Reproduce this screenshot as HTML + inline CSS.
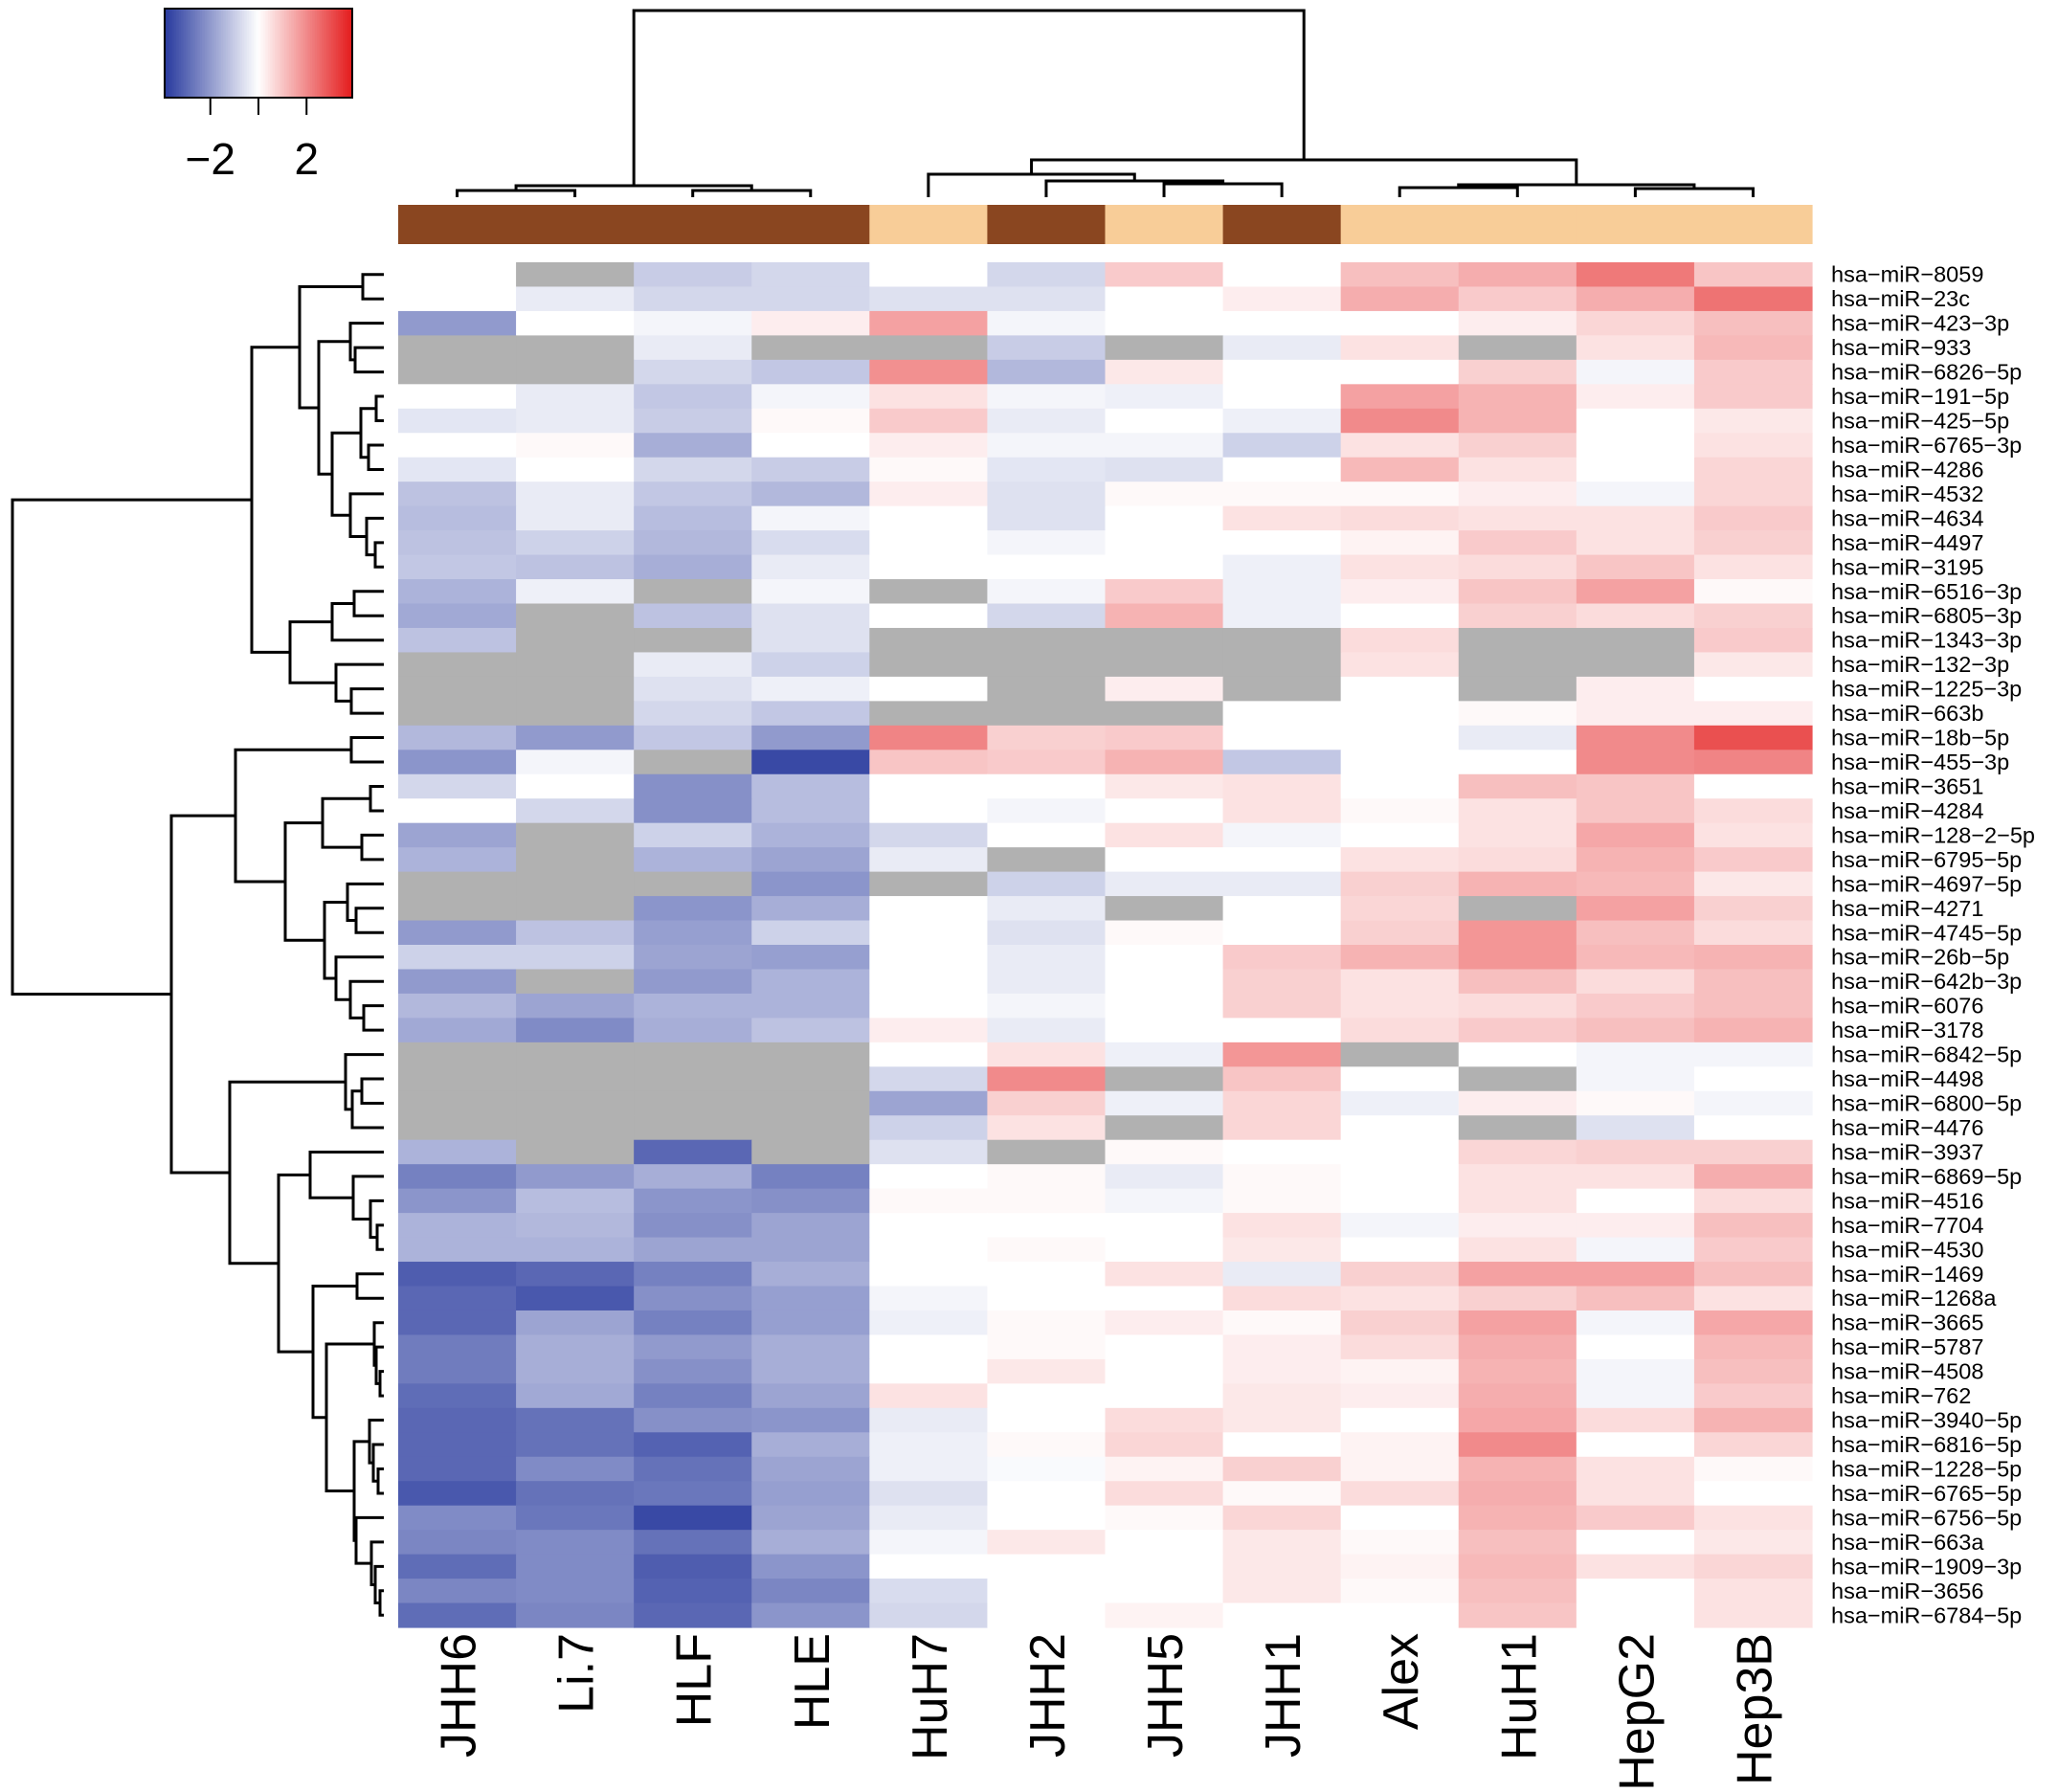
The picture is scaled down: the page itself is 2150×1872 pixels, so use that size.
<!DOCTYPE html>
<html><head><meta charset="utf-8"><style>
html,body{margin:0;padding:0;background:#fff;}
svg{display:block;font-family:"Liberation Sans",Arial,sans-serif;}
</style></head><body>
<svg id="chart" width="2150" height="1872" viewBox="0 0 2150 1872" xmlns="http://www.w3.org/2000/svg">
<g id="key"></g>
<g id="coldendro"></g>
<g id="annot"></g>
<g id="rowdendro"></g>
<g id="cells"></g>
<g id="rowlabels"></g>
<g id="collabels"></g>
</svg>
<script>
const columns = ["JHH6","Li.7","HLF","HLE","HuH7","JHH2","JHH5","JHH1","Alex","HuH1","HepG2","Hep3B"];
const groups = [1,1,1,1,0,1,0,1,0,0,0,0];
const rows = ["hsa−miR−8059","hsa−miR−23c","hsa−miR−423−3p","hsa−miR−933","hsa−miR−6826−5p","hsa−miR−191−5p","hsa−miR−425−5p","hsa−miR−6765−3p","hsa−miR−4286","hsa−miR−4532","hsa−miR−4634","hsa−miR−4497","hsa−miR−3195","hsa−miR−6516−3p","hsa−miR−6805−3p","hsa−miR−1343−3p","hsa−miR−132−3p","hsa−miR−1225−3p","hsa−miR−663b","hsa−miR−18b−5p","hsa−miR−455−3p","hsa−miR−3651","hsa−miR−4284","hsa−miR−128−2−5p","hsa−miR−6795−5p","hsa−miR−4697−5p","hsa−miR−4271","hsa−miR−4745−5p","hsa−miR−26b−5p","hsa−miR−642b−3p","hsa−miR−6076","hsa−miR−3178","hsa−miR−6842−5p","hsa−miR−4498","hsa−miR−6800−5p","hsa−miR−4476","hsa−miR−3937","hsa−miR−6869−5p","hsa−miR−4516","hsa−miR−7704","hsa−miR−4530","hsa−miR−1469","hsa−miR−1268a","hsa−miR−3665","hsa−miR−5787","hsa−miR−4508","hsa−miR−762","hsa−miR−3940−5p","hsa−miR−6816−5p","hsa−miR−1228−5p","hsa−miR−6765−5p","hsa−miR−6756−5p","hsa−miR−663a","hsa−miR−1909−3p","hsa−miR−3656","hsa−miR−6784−5p"];
const N = null;
const values = [
[0,N,-1.0,-0.8,0,-0.8,0.9,0,1.1,1.4,2.3,1.0],
[0,-0.4,-0.8,-0.8,-0.6,-0.6,0,0.3,1.4,0.9,1.4,2.4],
[-2.0,0,-0.2,0.3,1.6,-0.2,0,0,0,0.3,0.7,1.1],
[N,N,-0.4,N,N,-1.0,N,-0.4,0.5,N,0.5,1.2],
[N,N,-0.8,-1.1,1.9,-1.4,0.4,0,0,0.8,-0.2,0.9],
[0,-0.4,-1.1,-0.2,0.5,-0.2,-0.3,0,1.6,1.3,0.3,0.9],
[-0.5,-0.4,-1.0,0.1,0.9,-0.4,0,-0.3,2.0,1.3,0,0.4],
[0,0.1,-1.6,0,0.3,-0.2,-0.2,-0.9,0.5,0.8,0,0.5],
[-0.5,0,-0.8,-1.0,0.1,-0.5,-0.6,0,1.2,0.5,0,0.7],
[-1.2,-0.4,-1.1,-1.4,0.3,-0.6,0.1,0.1,0.1,0.3,-0.2,0.7],
[-1.3,-0.4,-1.3,-0.2,0,-0.6,0,0.5,0.6,0.5,0.5,0.9],
[-1.2,-0.9,-1.4,-0.7,0,-0.2,0,0,0.2,0.9,0.5,0.8],
[-1.1,-1.2,-1.6,-0.4,0,0,0,-0.3,0.5,0.6,1.0,0.5],
[-1.5,-0.3,N,-0.2,N,-0.2,0.9,-0.3,0.3,1.0,1.6,0.1],
[-1.7,N,-1.2,-0.6,0,-0.8,1.3,-0.3,0,0.8,0.6,0.8],
[-1.2,N,N,-0.6,N,N,N,N,0.6,N,N,0.9],
[N,N,-0.4,-0.9,N,N,N,N,0.5,N,N,0.4],
[N,N,-0.6,-0.3,0,N,0.3,N,0,N,0.3,0],
[N,N,-0.8,-1.1,N,N,N,0,0,0.1,0.3,0.3],
[-1.4,-2.0,-1.1,-2.0,2.1,0.8,0.9,0,0,-0.4,2.0,3.0],
[-2.1,-0.2,N,-3.6,1.0,0.9,1.3,-1.1,0,0,2.0,2.1],
[-0.8,0,-2.2,-1.3,0,0,0.4,0.5,0,1.1,1.0,0],
[0,-0.8,-2.2,-1.3,0,-0.2,0,0.5,0.1,0.5,1.0,0.6],
[-1.8,N,-0.9,-1.5,-0.8,0,0.5,-0.2,0,0.5,1.5,0.5],
[-1.5,N,-1.5,-1.8,-0.4,N,0,0,0.5,0.6,1.3,0.9],
[N,N,N,-2.1,N,-0.9,-0.4,-0.4,0.8,1.3,1.2,0.4],
[N,N,-2.1,-1.6,0,-0.4,N,0,0.7,N,1.6,0.8],
[-2.0,-1.2,-1.9,-0.9,0,-0.6,0.1,0,0.8,1.8,1.1,0.6],
[-0.9,-0.9,-1.8,-1.9,0,-0.4,0,0.9,1.3,1.8,1.2,1.3],
[-2.0,N,-2.0,-1.5,0,-0.4,0,0.8,0.5,1.1,0.6,1.1],
[-1.4,-1.8,-1.5,-1.5,0,-0.2,0,0.8,0.5,0.6,0.9,1.1],
[-1.7,-2.3,-1.6,-1.2,0.3,-0.4,0,0,0.6,0.9,1.1,1.3],
[N,N,N,N,0,0.5,-0.3,1.8,N,0,-0.2,-0.2],
[N,N,N,N,-0.8,2.0,N,1.0,0,N,-0.2,0],
[N,N,N,N,-1.8,0.8,-0.3,0.7,-0.3,0.3,0.1,-0.2],
[N,N,N,N,-0.9,0.5,N,0.7,0,N,-0.6,0],
[-1.5,N,-3.0,N,-0.6,N,0.1,0,0,0.7,0.8,0.8],
[-2.5,-2.0,-1.6,-2.5,0,0.1,-0.4,0.1,0,0.5,0.5,1.4],
[-2.1,-1.3,-2.1,-2.2,0.1,0.1,-0.2,0.1,0,0.5,0,0.6],
[-1.5,-1.4,-2.2,-1.8,0,0,0,0.5,-0.2,0.3,0.3,1.1],
[-1.5,-1.5,-1.8,-1.8,0,0.1,0,0.4,0,0.5,-0.2,0.9],
[-3.2,-3.0,-2.5,-1.6,0,0,0.5,-0.4,0.8,1.6,1.6,1.1],
[-3.0,-3.3,-2.2,-1.9,-0.2,0,0,0.6,0.5,0.8,1.1,0.5],
[-3.0,-1.8,-2.5,-1.9,-0.3,0.1,0.3,0.1,0.8,1.6,-0.2,1.5],
[-2.6,-1.6,-2.0,-1.6,0,0.1,0,0.3,0.6,1.4,0,1.2],
[-2.6,-1.6,-2.2,-1.6,0,0.4,0,0.3,0.2,1.3,-0.2,1.1],
[-2.9,-1.7,-2.5,-1.8,0.5,0,0,0.4,0.3,1.4,-0.2,0.9],
[-3.0,-2.8,-2.2,-2.1,-0.4,0,0.6,0.4,0,1.5,0.6,1.3],
[-3.0,-2.8,-3.1,-1.6,-0.3,0.1,0.7,0,0.2,2.0,0,0.7],
[-3.0,-2.3,-2.8,-1.8,-0.3,-0.1,0.2,0.8,0.2,1.3,0.5,0.1],
[-3.3,-2.8,-2.7,-1.9,-0.6,0,0.6,0.1,0.6,1.4,0.5,0],
[-2.3,-2.7,-3.6,-1.8,-0.4,0,0.1,0.7,0,1.3,0.9,0.5],
[-2.4,-2.3,-2.8,-1.6,-0.2,0.4,0,0.4,0.1,1.1,0,0.4],
[-2.9,-2.3,-3.2,-2.1,0,0,0,0.4,0.2,1.2,0.5,0.7],
[-2.4,-2.3,-3.1,-2.4,-0.7,0,0,0.4,0.1,1.1,0,0.5],
[-2.9,-2.4,-3.0,-2.1,-0.8,0,0.2,0,0,1.0,0,0.5]
];
const keyTicks = [-2,0,2];
const keyTickLabels = ["\u22122","","2"];
// dendrogram trees: [mergeHeight, left, right]; leaves are indices
const rowTree = [13,
 [263,
  [313,[379,0,1],[333,[366,2,[371,3,4]],[347,[377,[393,5,6],[385,7,8]],[366,9,[383,10,[392,11,12]]]]]],
  [303,[347,[370,13,14],15],[351,16,[367,17,18]]]],
 [179,
  [246,[367,19,20],[298,[337,[387,21,22],[378,23,24]],[339,[363,25,[372,26,27]],[351,28,[366,29,[380,30,31]]]]]],
  [240,[361,32,[368,[378,33,34],35]],
   [291,[324,36,[369,37,[387,38,[394,39,40]]]],
    [327,[373,41,42],[341,[391,43,[393,44,[397,45,46]]],[370,[386,47,[390,48,[395,49,50]]],[372,51,[388,52,[392,53,[397,54,55]]]]]]]]]]];
const colTree = [11,[194,[199,0,1],[199,2,3]],[167,[182,4,[189,5,[192,6,7]]],[193,[196,8,9],[197,10,11]]]];

const NS="http://www.w3.org/2000/svg";
const X0=416,X1=1893,Y0=274,Y1=1700;
const cw=(X1-X0)/columns.length, rh=(Y1-Y0)/rows.length;
const xs=i=>X0+i*cw, ys=i=>Y0+i*rh;
const VMAX=3.9;
const BLUE=[40,58,158],RED=[228,27,28];
function color(v){
  if(v===null) return "#b1b1b1";
  let f=Math.min(1,Math.abs(v)/VMAX), c=v<0?BLUE:RED;
  return "rgb("+c.map(k=>Math.round(255+(k-255)*f)).join(",")+")";
}
function mk(tag,attrs,parent){const e=document.createElementNS(NS,tag);for(const k in attrs)e.setAttribute(k,attrs[k]);parent.appendChild(e);return e;}

const gc=document.getElementById("cells");
values.forEach((row,r)=>row.forEach((v,c)=>{
  const e=mk("rect",{x:xs(c),y:ys(r),width:cw+0.6,height:rh+0.6,fill:color(v)},gc);
  
  
}));
const gl=document.getElementById("rowlabels");
rows.forEach((n,r)=>{
  const t=mk("text",{x:1913,y:ys(r)+rh/2+8,"font-size":23.5,fill:"#000"},gl);
  t.textContent=n;
  
  
});
const gcl=document.getElementById("collabels");
columns.forEach((n,c)=>{
  const cx=xs(c)+cw/2+19;
  const t=mk("text",{x:cx,y:1706,"font-size":52,"text-anchor":"end",transform:"rotate(-90 "+cx+" 1706)",fill:"#000"},gcl);
  t.textContent=n;
  
  
});
const ga=document.getElementById("annot");
groups.forEach((g,c)=>{
  const e=mk("rect",{x:xs(c),y:214,width:cw+0.6,height:41,fill:g?"#8a4620":"#f8cd98"},ga);
  
  
});
function drawTree(node,leafPos,leafH,horizontal,g){
  if(typeof node==="number") return {p:leafPos(node),h:leafH};
  const a=drawTree(node[1],leafPos,leafH,horizontal,g), b=drawTree(node[2],leafPos,leafH,horizontal,g);
  const h=node[0], p=(a.p+b.p)/2;
  let d;
  if(horizontal){ d="M"+a.h+","+a.p+"H"+h+"V"+b.p+"H"+b.h; }
  else { d="M"+a.p+","+a.h+"V"+h+"H"+b.p+"V"+b.h; }
  const e=mk("path",{d:d,fill:"none",stroke:"#000","stroke-width":3},g);
  
  
  return {p:p,h:h};
}
drawTree(rowTree,i=>ys(i)+rh/2,401,true,document.getElementById("rowdendro"));
drawTree(colTree,i=>xs(i)+cw/2,206,false,document.getElementById("coldendro"));
const gk=document.getElementById("key");
const KX0=172,KX1=368,KY0=9,KY1=102,steps=80;
for(let i=0;i<steps;i++){
  const v=-VMAX+(i+0.5)*2*VMAX/steps;
  const e=mk("rect",{x:KX0+i*(KX1-KX0)/steps,y:KY0,width:(KX1-KX0)/steps+0.5,height:KY1-KY0,fill:color(v)},gk);
  
  
}
const kb=mk("rect",{x:KX0,y:KY0,width:KX1-KX0,height:KY1-KY0,fill:"none",stroke:"#000","stroke-width":2},gk);


const kx=v=>KX0+(v+VMAX)/(2*VMAX)*(KX1-KX0);
keyTicks.forEach((v,i)=>{
  const l=mk("line",{x1:kx(v),x2:kx(v),y1:KY1,y2:KY1+18,stroke:"#000","stroke-width":2},gk);
  
  
  if(keyTickLabels[i]){
    const t=mk("text",{x:kx(v),y:182,"font-size":46,"text-anchor":"middle",fill:"#000"},gk);
    t.textContent=keyTickLabels[i];
    
    
  }
});
</script>
</body></html>
